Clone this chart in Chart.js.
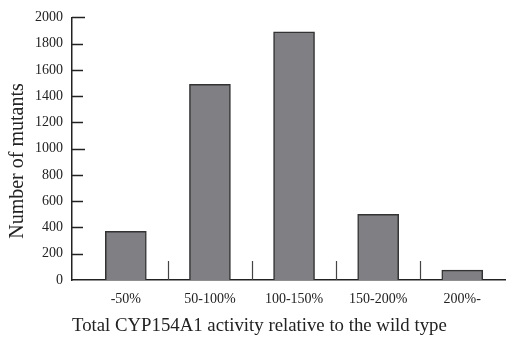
<!DOCTYPE html>
<html>
<head>
<meta charset="utf-8">
<script src="https://cdn.jsdelivr.net/npm/chart.js@4"></script>
<style>
  html, body { margin: 0; padding: 0; background: #fff; }
  #wrap { width: 506px; height: 339px; }
</style>
</head>
<body>
<div id="wrap"><canvas id="mutantChart" width="506" height="339"></canvas></div>
<script>
// activity bins and counts
let categories = ["-50%", "50-100%", "100-150%", "150-200%", "200%-"];
let mutants = [370, 1490, 1890, 500, 75];
let yMax = 2000;
let yStep = 200;
let yTitle = "Number of mutants";
let xTitle = "Total CYP154A1 activity relative to the wild type";

const serif = "'Liberation Serif', 'Times New Roman', serif";
const ink = "#222";

// inward y ticks, short divider marks between bins, rotated y title
const axisMarks = {
  id: "axisMarks",
  afterDatasetsDraw(chart) {
    let c = chart.ctx;
    let x = chart.scales.x;
    let y = chart.scales.y;
    c.save();
    c.strokeStyle = ink;
    c.lineWidth = 1.5;
    y.ticks.forEach((t) => {
      if (t.value === 0) return;
      let py = Math.round(y.getPixelForValue(t.value)) + 0.5;
      let len = t.value % 1000 === 0 ? 13 : 11;
      c.beginPath();
      c.moveTo(x.left, py);
      c.lineTo(x.left + len, py);
      c.stroke();
    });
    c.strokeStyle = "#444";
    c.lineWidth = 1.2;
    for (let i = 0; i < categories.length - 1; i++) {
      let px = Math.round(x.getPixelForValue(i + 0.5)) + 0.5;
      c.beginPath();
      c.moveTo(px, y.bottom);
      c.lineTo(px, y.bottom - 19);
      c.stroke();
    }
    // y title sits a bit lower than the plot centre in the original
    c.translate(23, 161);
    c.rotate(-Math.PI / 2);
    c.fillStyle = ink;
    c.font = "20px " + serif;
    c.textAlign = "center";
    c.textBaseline = "alphabetic";
    c.fillText(yTitle, 0, 0);
    c.restore();
  },
};

const ctx = document.getElementById("mutantChart").getContext("2d");

let chart = new Chart(ctx, {
  type: "bar",
  data: {
    datasets: [
      {
        label: yTitle,
        data: mutants.map((v, i) => ({ x: i, y: v })),
        backgroundColor: "#7f7f84",
        borderColor: "#333",
        borderWidth: 1.5,
        barThickness: 41,
      },
    ],
  },
  options: {
    responsive: false,
    animation: false,
    layout: { padding: { top: 12, right: 0, bottom: 0, left: 0 } },
    plugins: { legend: { display: false }, tooltip: { enabled: false } },
    scales: {
      x: {
        type: "linear",
        offset: false,
        min: -0.64,
        max: 4.52,
        afterBuildTicks: (s) => {
          s.ticks = categories.map((c, i) => ({ value: i }));
        },
        afterFit: (s) => {
          s.height = 59;
        },
        grid: { display: false, drawTicks: false, offset: false },
        border: { display: true, color: ink, width: 1.5 },
        ticks: {
          autoSkip: false,
          maxRotation: 0,
          padding: 11,
          color: ink,
          font: { family: serif, size: 14 },
          callback: (v) => categories[Math.round(v)] ?? "",
        },
        title: {
          display: true,
          text: xTitle,
          align: "start",
          color: ink,
          font: { family: serif, size: 18.8 },
          padding: { top: 2, bottom: 2 },
        },
      },
      y: {
        min: 0,
        max: yMax,
        afterFit: (s) => {
          s.width = 72;
        },
        grid: { display: false, drawTicks: false },
        border: { display: true, color: ink, width: 1.5 },
        ticks: {
          stepSize: yStep,
          padding: 9,
          color: ink,
          font: { family: serif, size: 14 },
          callback: (v) => String(v),
        },
        title: { display: false },
      },
    },
  },
  plugins: [axisMarks],
});
</script>
</body>
</html>
